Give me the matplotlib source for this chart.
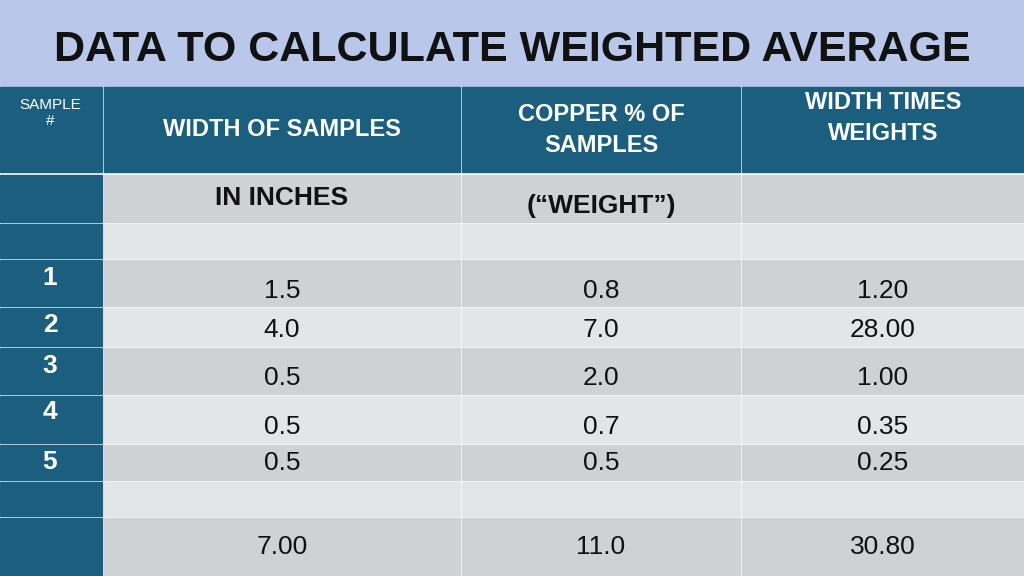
import matplotlib.pyplot as plt
from matplotlib.patches import Rectangle

# table data
title = "DATA TO CALCULATE WEIGHTED AVERAGE"
headers = ["SAMPLE\n#", "WIDTH OF SAMPLES", "COPPER % OF\nSAMPLES", "WIDTH TIMES\nWEIGHTS"]
units = ["", "IN INCHES", "(\u201cWEIGHT\u201d)", ""]
samples = ["1", "2", "3", "4", "5"]
widths = ["1.5", "4.0", "0.5", "0.5", "0.5"]
weights = ["0.8", "7.0", "2.0", "0.7", "0.5"]
products = ["1.20", "28.00", "1.00", "0.35", "0.25"]
totals = ["", "7.00", "11.0", "30.80"]

W, H = 1024, 576
fig = plt.figure(figsize=(W / 100, H / 100), dpi=100)
ax = fig.add_axes([0, 0, 1, 1])
ax.set_xlim(0, W)
ax.set_ylim(H, 0)
ax.axis("off")
fig.patch.set_facecolor("white")

teal = "#1b5e7e"
dark = "#cfd1d4"
light = "#e4e5e7"
font = "Liberation Sans"

# title band
ax.add_patch(Rectangle((0, 0), W, 86, color="#b9c8ea"))
ax.text(512, 50, title, ha="center", va="center", fontsize=31, fontweight="bold",
        family=font, color="#111111")

cols = [(0, 102), (104, 460), (462, 740), (742, W)]
col_x = [50, 282, 601, 883]

# header row
for x0, x1 in cols:
    ax.add_patch(Rectangle((x0, 87), x1 - x0, 85, color=teal))
ax.text(50, 98, headers[0], ha="center", va="top", fontsize=11, color="white", family=font)
ax.text(col_x[1], 130, headers[1], ha="center", va="center", fontsize=17, fontweight="bold", color="white", family=font)
ax.text(col_x[2], 130, headers[2], ha="center", va="center", fontsize=17, fontweight="bold", color="white", family=font, linespacing=1.4)
ax.text(col_x[3], 118, headers[3], ha="center", va="center", fontsize=17, fontweight="bold", color="white", family=font, linespacing=1.4)

# body rows: (top, bottom, fill)
rows = [(175, 222, dark), (224, 258, light), (260, 306, dark), (308, 346, light),
        (348, 394, dark), (396, 443, light), (445, 480, dark), (482, 516, light),
        (518, 576, dark)]
for top, bot, fill in rows:
    ax.add_patch(Rectangle((0, top), 102, bot - top, color=teal))
    for x0, x1 in cols[1:]:
        ax.add_patch(Rectangle((x0, top), x1 - x0, bot - top, color=fill))

style = dict(ha="center", va="center", fontsize=19, color="#111111", family=font)
ax.text(col_x[1], 198, units[1], fontweight="bold", **style)
ax.text(col_x[2], 206, units[2], fontweight="bold", **style)

value_y = [291, 330, 378, 427, 463]
num_y = [278, 325, 366, 412, 462]
for i in range(len(samples)):
    ax.text(50, num_y[i], samples[i], ha="center", va="center", fontsize=19, fontweight="bold", color="white", family=font)
    ax.text(col_x[1], value_y[i], widths[i], **style)
    ax.text(col_x[2], value_y[i], weights[i], **style)
    ax.text(col_x[3], value_y[i], products[i], **style)

for j in range(1, 4):
    ax.text(col_x[j], 547, totals[j], **style)

fig.savefig("out.png", dpi=100)
